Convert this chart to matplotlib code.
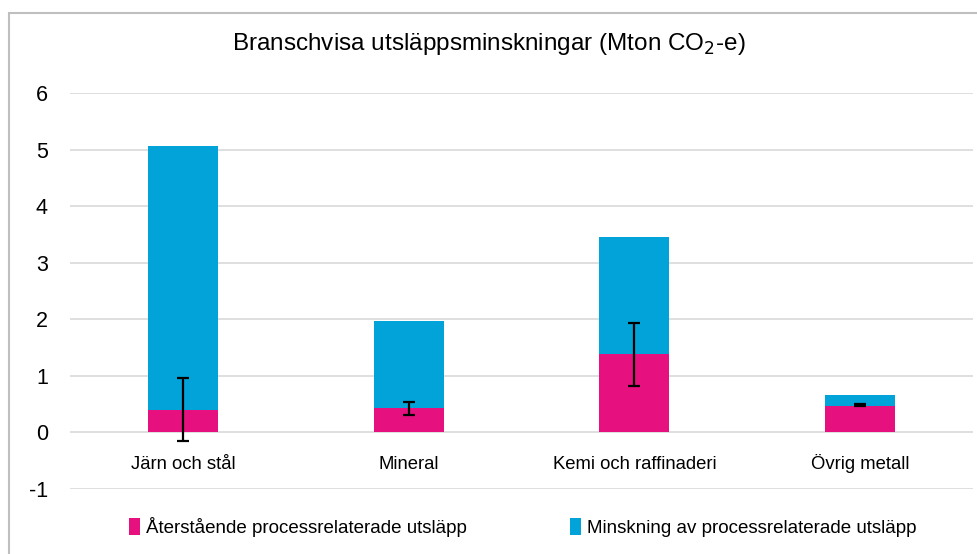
import matplotlib.pyplot as plt
from matplotlib.patches import Rectangle
import numpy as np

plt.rcParams["font.family"] = ["Liberation Sans", "DejaVu Sans"]
plt.rcParams["axes.unicode_minus"] = False

# Data
kategorier = ["Järn och stål", "Mineral", "Kemi och raffinaderi", "Övrig metall"]
aterstaende = [0.40, 0.44, 1.38, 0.47]
minskning = [4.66, 1.53, 2.07, 0.19]
fel_mitt = [0.41, 0.425, 1.38, 0.48]
fel = [0.56, 0.11, 0.56, 0.015]

rosa = "#E6107F"
bla = "#02A3D9"

fig = plt.figure(figsize=(9.77, 5.54), dpi=100)
ax = fig.add_axes([70 / 977, 1 - 489 / 554, 903 / 977, 396 / 554])

x = np.arange(len(kategorier))
ax.bar(x, aterstaende, width=0.31, color=rosa, label="Återstående processrelaterade utsläpp", zorder=2)
ax.bar(x, minskning, width=0.31, bottom=aterstaende, color=bla,
       label="Minskning av processrelaterade utsläpp", zorder=2)
ax.errorbar(x, fel_mitt, yerr=fel, fmt="none", ecolor="black", elinewidth=1.6,
            capsize=4.5, capthick=1.6, zorder=3)

ax.set_xlim(-0.5, len(kategorier) - 0.5)
ax.set_ylim(-1, 6)
ax.set_yticks(range(-1, 7))
ax.grid(axis="y", color="#D9D9D9", linewidth=1.2, zorder=0)
ax.set_axisbelow(True)
for s in ax.spines.values():
    s.set_visible(False)
ax.tick_params(axis="both", length=0)
ax.tick_params(axis="y", labelsize=15.5, pad=16)
ax.set_xticks([])
# kategorinamn under nollinjen
for xi, k in zip(x, kategorier):
    ax.text(xi, -0.64, k, ha="center", va="baseline", fontsize=13.3)

fig.text(0.5, 1 - 44 / 554, "Branschvisa utsläppsminskningar (Mton CO$_2$-e)",
         ha="center", va="center", fontsize=17.5)

fig.legend(loc="center", bbox_to_anchor=(0.535, 1 - 527 / 554), ncol=2, frameon=False,
           fontsize=13.5, handlelength=0.6, handleheight=1.0, handletextpad=0.3,
           columnspacing=5.5)

fig.patches.append(Rectangle((8.5 / 977, -0.1), 1.2, 1.1 - 12.5 / 554,
                             transform=fig.transFigure, fill=False,
                             edgecolor="#BFBFBF", linewidth=1.5))

fig.savefig("out.png", dpi=100)
